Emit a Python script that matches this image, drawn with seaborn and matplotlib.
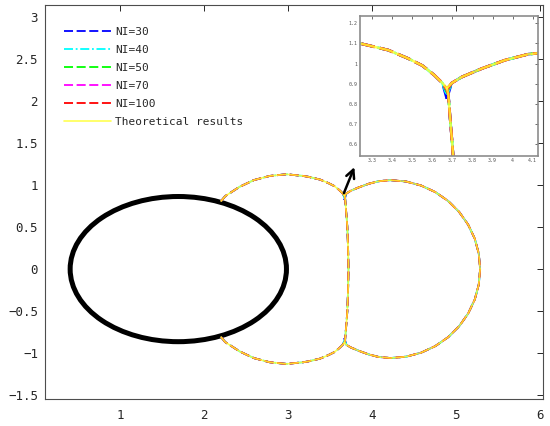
import numpy as np
import pandas as pd
import seaborn as sns
import matplotlib.pyplot as plt
from matplotlib.patches import Ellipse

# ---- data ----
series_names = ['NI=30', 'NI=40', 'NI=50', 'NI=70', 'NI=100', 'Theoretical results']
series_colors = ['#0000ff', '#00ffff', '#00ff00', '#ff00ff', '#ff0000', '#ffff33']

# junction (cusp) where the two lobes meet, per series
junction_x = 3.672
junction_top_y = [0.825, 0.845, 0.86, 0.868, 0.873, 0.877]
junction_bottom_y = [-0.825, -0.845, -0.86, -0.868, -0.873, -0.877]

# left lobe (starts on the ellipse)
left_up_x = [2.20, 2.25, 2.42, 2.59, 2.78, 2.98, 3.18, 3.24, 3.38, 3.48, 3.55, 3.61, 3.65]
left_up_y = [0.81, 0.87, 0.98, 1.06, 1.11, 1.13, 1.11, 1.10, 1.067, 1.025, 0.99, 0.942, 0.903]
left_lo_x = [2.20, 2.25, 2.42, 2.59, 2.78, 2.98, 3.18, 3.24, 3.38, 3.48, 3.55, 3.61, 3.65]
left_lo_y = [-0.81, -0.87, -0.98, -1.06, -1.11, -1.13, -1.11, -1.10, -1.067, -1.025, -0.99, -0.942, -0.903]

# middle boundary between the lobes
mid_x = [3.679, 3.688, 3.699, 3.706, 3.715, 3.72, 3.715, 3.706, 3.699, 3.688, 3.679]
mid_y = [0.85, 0.733, 0.6, 0.5, 0.25, 0.0, -0.25, -0.5, -0.6, -0.733, -0.85]

# right lobe
right_x = [3.696, 3.746, 3.846, 3.962, 4.079, 4.22, 4.406, 4.586, 4.755, 4.908, 5.04,
           5.147, 5.226, 5.274, 5.29, 5.274, 5.226, 5.147, 5.04, 4.908, 4.755, 4.586,
           4.406, 4.22, 4.079, 3.962, 3.846, 3.746, 3.696]
right_y = [0.903, 0.933, 0.975, 1.017, 1.047, 1.06, 1.044, 0.996, 0.918, 0.812, 0.681,
           0.53, 0.363, 0.184, 0.0, -0.184, -0.363, -0.53, -0.681, -0.812, -0.918, -0.996,
           -1.044, -1.06, -1.047, -1.017, -0.975, -0.933, -0.903]

# black elliptical body
ellipse_center = (1.69, 0.0)
ellipse_width = 2.58
ellipse_height = 1.73

x_ticks = [1, 2, 3, 4, 5, 6]
x_tick_labels = ['1', '2', '3', '4', '5', '6']
y_ticks = [-1.5, -1, -0.5, 0, 0.5, 1, 1.5, 2, 2.5, 3]
y_tick_labels = ['\u22121.5', '\u22121', '\u22120.5', '0', '0.5', '1', '1.5', '2', '2.5', '3']
inset_x_ticks = [3.3, 3.4, 3.5, 3.6, 3.7, 3.8, 3.9, 4.0, 4.1]
inset_x_labels = ['3.3', '3.4', '3.5', '3.6', '3.7', '3.8', '3.9', '4', '4.1']
inset_y_ticks = [0.6, 0.7, 0.8, 0.9, 1.0, 1.1, 1.2]
inset_y_labels = ['0.6', '0.7', '0.8', '0.9', '1', '1.1', '1.2']

# ---- styles ----
series_ls = [(0, (5, 2)), (0, (5, 1.5, 1, 1.5)), (0, (5, 2)), (0, (5, 2)), (0, (5, 2)), '-']
series_lw = [1.3, 1.3, 1.3, 1.3, 1.3, 1.2]
series_alpha = [1, 1, 1, 1, 1, 0.85]

sns.set_style('white')
plt.rcParams['font.family'] = ['DejaVu Sans Mono']
plt.rcParams['axes.unicode_minus'] = True

fig = plt.figure(figsize=(5.5, 4.26), dpi=100)
ax = fig.add_axes([45 / 550, 1 - 399 / 426, 498 / 550, 394 / 426])


def outline(jt, jb):
    return [
        (left_up_x + [junction_x], left_up_y + [jt]),
        (left_lo_x + [junction_x], left_lo_y + [jb]),
        ([junction_x] + mid_x + [junction_x], [jt] + mid_y + [jb]),
        ([junction_x] + right_x + [junction_x], [jt] + right_y + [jb]),
    ]


def draw_curves(a, scale, with_labels):
    for i, name in enumerate(series_names):
        segs = outline(junction_top_y[i], junction_bottom_y[i])
        for k, (xs, ys) in enumerate(segs):
            lab = name if (with_labels and k == 0) else None
            sns.lineplot(x=xs, y=ys, sort=False, estimator=None, ax=a,
                         color=series_colors[i], linestyle=series_ls[i],
                         lw=series_lw[i] * scale, alpha=series_alpha[i], label=lab)


# black body
ax.add_patch(Ellipse(ellipse_center, ellipse_width, ellipse_height,
                     fill=False, edgecolor='black', lw=3.6))
draw_curves(ax, 1.0, True)

ax.annotate('', xy=(3.79, 1.215), xytext=(3.665, 0.905),
            arrowprops=dict(arrowstyle='->', color='black', lw=1.8,
                            mutation_scale=15, shrinkA=0, shrinkB=0))

ax.set_xlim(0.1, 6.04)
ax.set_ylim(-1.548, 3.147)
ax.set_xticks(x_ticks, x_tick_labels)
ax.set_yticks(y_ticks, y_tick_labels)
ax.tick_params(direction='in', length=4, width=0.7, top=True, right=True,
               labelsize=9, colors='#262626')
ax.tick_params(axis='x', pad=7)
ax.tick_params(axis='y', pad=5)
for s in ax.spines.values():
    s.set_color('#4d4d4d')
    s.set_linewidth(0.8)
ax.set_xlabel('')
ax.set_ylabel('')

ax.legend(loc='upper left', bbox_to_anchor=(64 / 550, 1 - 27 / 426),
          bbox_transform=fig.transFigure, frameon=False, fontsize=8,
          handlelength=4.2, handletextpad=0.4, labelspacing=0.72,
          borderpad=0, borderaxespad=0)

# ---- zoomed inset ----
axin = fig.add_axes([360 / 550, 1 - 155.7 / 426, 177.7 / 550, 140 / 426])
draw_curves(axin, 1.5, False)
if axin.get_legend() is not None:
    axin.get_legend().remove()
axin.set_xlim(3.239, 4.125)
axin.set_ylim(0.542, 1.238)
axin.set_xticks(inset_x_ticks, inset_x_labels)
axin.set_yticks(inset_y_ticks, inset_y_labels)
axin.tick_params(direction='in', length=2.5, width=0.6, top=True, right=True,
                 labelsize=3.6, pad=2, colors='#555555')
for s in axin.spines.values():
    s.set_color('#8c8c8c')
    s.set_linewidth(1.2)
axin.set_xlabel('')
axin.set_ylabel('')

fig.savefig('out.png', dpi=100, facecolor='white')
